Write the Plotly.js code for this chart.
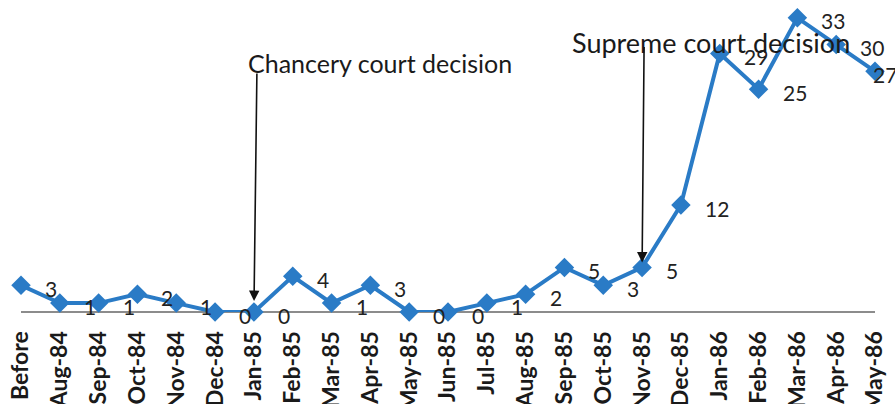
<!DOCTYPE html>
<html>
<head>
<meta charset="utf-8">
<script src="https://cdn.plot.ly/plotly-3.0.1.min.js"></script>
<style>html,body{margin:0;padding:0;background:#fff;}#chart{width:895px;height:404px;}</style>
</head>
<body>
<div id="chart"></div>
<script>
var categories = ["Before","Aug-84","Sep-84","Oct-84","Nov-84","Dec-84","Jan-85","Feb-85","Mar-85","Apr-85","May-85","Jun-85","Jul-85","Aug-85","Sep-85","Oct-85","Nov-85","Dec-85","Jan-86","Feb-86","Mar-86","Apr-86","May-86"];
var cases = [3,1,1,2,1,0,0,4,1,3,0,0,1,2,5,3,5,12,29,25,33,30,27];
var eventLabels = ["Chancery court decision","Supreme court decision"];
var eventCategories = ["Jan-85","Nov-85"];

var blue = "#2a7bc6";
var fontFam = "Lato, 'Open Sans', sans-serif";
var trace = {
  x: categories, y: cases, type: "scatter", mode: "lines+markers",
  line: {color: blue, width: 4},
  marker: {symbol: "diamond", size: 15, color: blue},
  cliponaxis: false, hoverinfo: "skip"
};

var annotations = cases.map(function(v, i){
  var last = i === cases.length - 1;
  return {x: categories[i], y: v, xref: "x", yref: "y", text: String(v), showarrow: false,
    xanchor: "left", yanchor: "middle", xshift: last ? -4 : 22, yshift: -3,
    font: {family: fontFam, size: 21, color: "#222"}};
});
// event text
annotations.push({x: eventCategories[0], y: 0.798, xref: "x", yref: "paper", text: eventLabels[0],
  showarrow: false, xanchor: "left", yanchor: "middle", xshift: -8,
  font: {family: fontFam, size: 25, color: "#1a1a1a"}});
annotations.push({x: eventCategories[1], y: 0.865, xref: "x", yref: "paper", text: eventLabels[1],
  showarrow: false, xanchor: "left", yanchor: "middle", xshift: -72,
  font: {family: fontFam, size: 27, color: "#1a1a1a"}});
// event arrows
annotations.push({x: eventCategories[0], y: 0, xref: "x", yref: "y", text: "", showarrow: true,
  ax: 3, ay: -240, arrowhead: 2, arrowsize: 1.3, arrowwidth: 1.6, arrowcolor: "#111", standoff: 11});
annotations.push({x: eventCategories[1], y: cases[categories.indexOf(eventCategories[1])], xref: "x", yref: "y", text: "", showarrow: true,
  ax: 2, ay: -222, arrowhead: 2, arrowsize: 1.3, arrowwidth: 1.6, arrowcolor: "#111", standoff: 5});

var layout = {
  width: 895, height: 404,
  margin: {l: 21, r: 20, t: 0, b: 92},
  paper_bgcolor: "#fff", plot_bgcolor: "#fff",
  showlegend: false,
  xaxis: {type: "category", range: [0, 22], showgrid: false, zeroline: false, automargin: false,
    showline: false, ticks: "outside", ticklen: 9, tickcolor: "rgba(0,0,0,0)", tickangle: -90,
    tickfont: {family: fontFam, size: 23, color: "#1a1a1a", weight: "bold"}},
  yaxis: {range: [0, 35], showgrid: false, zeroline: true, zerolinecolor: "#8c8c8c", zerolinewidth: 1.5,
    showticklabels: false, ticks: "", showline: false},
  annotations: annotations
};
Plotly.newPlot("chart", [trace], layout, {displayModeBar: false, staticPlot: true});
</script>
</body>
</html>
